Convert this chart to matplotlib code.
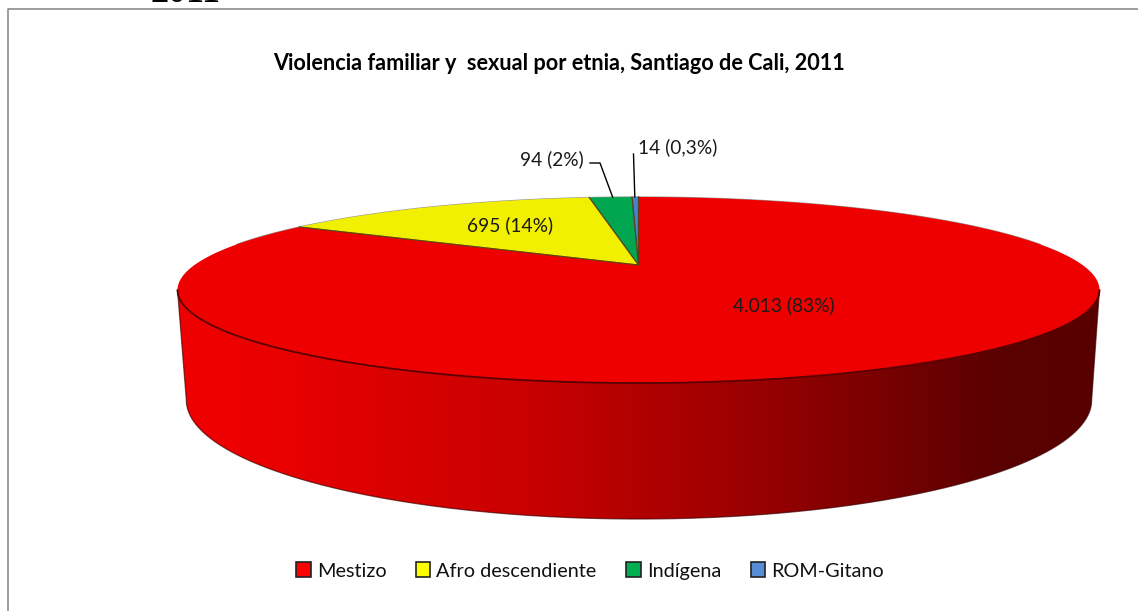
import numpy as np
import matplotlib
matplotlib.use('Agg')
import matplotlib.pyplot as plt
from matplotlib.patches import Patch, Polygon

plt.rcParams['font.family'] = ['Lato', 'DejaVu Sans']

# data
categories = ['Mestizo', 'Afro descendiente', 'Indígena', 'ROM-Gitano']
values = [4013, 695, 94, 14]
value_labels = ['4.013 (83%)', '695 (14%)', '94 (2%)', '14 (0,3%)']
title = 'Violencia familiar y  sexual por etnia, Santiago de Cali, 2011'

top_colors = ['#ee0000', '#f0f000', '#00a650', '#4a7fcf']
legend_colors = ['#ff0000', '#ffff00', '#00b050', '#558ed5']

fig = plt.figure(figsize=(11.38, 6.11), dpi=100)
ax = fig.add_axes([0, 0, 1, 1])
ax.set_xlim(0, 1138)
ax.set_ylim(611, 0)
ax.axis('off')


# perspective view of the unit disc, theta clockwise from 12 o'clock
def project(theta, sx, k, x0, y0, a=0.269):
    u, v = np.sin(theta), np.cos(theta)
    w = 1 + a * v
    return x0 + sx * u / w, y0 - k * v / w


top = dict(sx=444, k=86.3, x0=638.5, y0=265)
bottom = dict(sx=436, k=110.4, x0=639, y0=368)

# chart frame (only top and left are inside the picture)
ax.plot([1138, 8.5, 8.5], [8.5, 8.5, 611], color='#8c8c8c', lw=1.2, zorder=1)
ax.text(186, 2.5, '2011', family='Liberation Serif', weight='bold', fontsize=26,
        ha='center', va='baseline', color='black', zorder=1)

# side wall with horizontal shading
t_top = np.linspace(np.pi / 2 + 0.27, 3 * np.pi / 2 - 0.27, 300)
xt, yt = project(t_top, **top)
xb, yb = project(t_top, **bottom)
i_l, i_r = np.argmin(xt), np.argmax(xt)
wall_x = np.r_[xt[i_r], xb, xt[i_l]]
wall_y = np.r_[yt[i_r], yb, yt[i_l]]
grad_x = np.arange(170, 1105)
red = np.interp(grad_x, [170, 220, 300, 540, 740, 1000, 1105], [238, 238, 230, 198, 156, 90, 88])
zeros = np.zeros_like(red)
img = np.dstack([red, zeros, zeros]).astype(np.uint8)
im = ax.imshow(img, extent=[170, 1105, 530, 280], aspect='auto', zorder=2)
wall = Polygon(np.c_[wall_x, wall_y], closed=True, fc='none', ec='none')
ax.add_patch(wall)
im.set_clip_path(wall)
ax.set_xlim(0, 1138)
ax.set_ylim(611, 0)
ax.plot(wall_x, wall_y, color='#3a0000', lw=0.9, alpha=0.65, zorder=3)

# top face
fractions = np.array(values) / sum(values)
edges = np.r_[0, np.cumsum(fractions)] * 2 * np.pi
for i, color in enumerate(top_colors):
    t = np.linspace(edges[i], edges[i + 1], 400)
    x, y = project(t, **top)
    px = np.r_[top['x0'], x]
    py = np.r_[top['y0'], y]
    ax.add_patch(Polygon(np.c_[px, py], closed=True, fc=color, ec='none', zorder=4))
    # dark cut lines between slices
    ax.plot([x[0], top['x0'], x[-1]], [y[0], top['y0'], y[-1]], color='#5a3a10',
            lw=0.8, alpha=0.75, zorder=5)

t_all = np.linspace(0, 2 * np.pi, 800)
x, y = project(t_all, **top)
back = np.cos(t_all) > 0.25
ax.plot(np.where(back, x, np.nan), np.where(back, y, np.nan), color='#999999', lw=0.9, zorder=3.5)
front = (t_all > np.pi / 2 + 0.27) & (t_all < 3 * np.pi / 2 - 0.27)
ax.plot(x[front], y[front], color='#5a0000', lw=1.3, zorder=5)

# labels
font = 13.8
ax.text(784, 305, value_labels[0], fontsize=font, ha='center', va='center', color='#1a1a1a', zorder=6)
ax.text(510, 225, value_labels[1], fontsize=font, ha='center', va='center', color='#1a1a1a', zorder=6)
ax.text(552, 159, value_labels[2], fontsize=font, ha='center', va='center', color='#1a1a1a', zorder=6)
ax.text(678, 147, value_labels[3], fontsize=font, ha='center', va='center', color='#1a1a1a', zorder=6)

# leader lines end at the rim, mid slice
mid = (edges[:-1] + edges[1:]) / 2
mx, my = project(mid, **top)
ax.plot([590, 600, mx[2] + 2], [163, 163, my[2]], color='black', lw=1, zorder=6)
ax.plot([633.5, mx[3] - 0.5], [154, my[3]], color='black', lw=1, zorder=6)

ax.text(559.5, 63, title, fontsize=15.6, weight='bold', ha='center', va='center', color='black')

handles = [Patch(fc=c, ec='#222222', lw=1.2) for c in legend_colors]
leg = ax.legend(handles, categories, ncol=4, frameon=False, fontsize=14.3,
                loc='center', bbox_to_anchor=(590 / 1138, 1 - 571 / 611),
                handlelength=0.72, handleheight=0.72, handletextpad=0.3, columnspacing=1.5,
                labelcolor='#111111')

fig.savefig('out.png', dpi=100)
